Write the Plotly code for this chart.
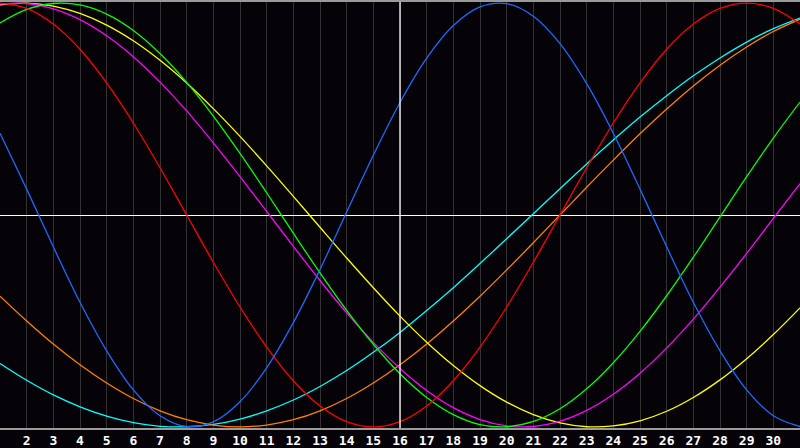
import plotly.graph_objects as go

# day of month on the x axis
days = list(range(1, 32))
today = 16

# cycle values, one per day (1..31)
physical = [0.386, 0.122, -0.150, -0.412, -0.641, -0.825, -0.947, -0.998, -0.976, -0.881,
            -0.721, -0.508, -0.257, 0.014, 0.282, 0.531, 0.740, 0.894, 0.982, 0.997,
            0.938, 0.809, 0.620, 0.386, 0.122, -0.150, -0.412, -0.641, -0.825, -0.947,
            -0.998]
emotional = [1.000, 0.975, 0.901, 0.782, 0.623, 0.434, 0.223, 0.000, -0.223, -0.434,
             -0.623, -0.782, -0.901, -0.975, -1.000, -0.975, -0.901, -0.782, -0.623, -0.434,
             -0.223, 0.000, 0.223, 0.434, 0.623, 0.782, 0.901, 0.975, 1.000, 0.975,
             0.901]
intellectual = [0.906, 0.970, 0.998, 0.991, 0.948, 0.871, 0.762, 0.626, 0.467, 0.291,
                0.105, -0.086, -0.273, -0.450, -0.610, -0.749, -0.861, -0.942, -0.989, -0.999,
                -0.974, -0.914, -0.820, -0.697, -0.549, -0.381, -0.199, -0.009, 0.181, 0.363,
                0.533]
intuitive = [0.995, 0.998, 0.973, 0.922, 0.846, 0.747, 0.627, 0.491, 0.340, 0.181,
             0.017, -0.148, -0.309, -0.462, -0.601, -0.724, -0.828, -0.909, -0.965, -0.995,
             -0.998, -0.973, -0.922, -0.846, -0.747, -0.627, -0.491, -0.340, -0.181, -0.016,
             0.148]
aesthetic = [0.992, 1.000, 0.986, 0.951, 0.896, 0.822, 0.730, 0.623, 0.502, 0.371,
             0.232, 0.088, -0.058, -0.203, -0.343, -0.477, -0.600, -0.710, -0.805, -0.883,
             -0.942, -0.981, -0.999, -0.995, -0.971, -0.926, -0.861, -0.778, -0.678, -0.564,
             -0.438]
awareness = [-0.383, -0.500, -0.609, -0.707, -0.793, -0.866, -0.924, -0.966, -0.991, -1.000,
             -0.991, -0.966, -0.924, -0.866, -0.793, -0.707, -0.609, -0.500, -0.383, -0.259,
             -0.131, 0.000, 0.131, 0.259, 0.383, 0.500, 0.609, 0.707, 0.793, 0.866,
             0.924]
spiritual = [-0.701, -0.780, -0.849, -0.905, -0.949, -0.980, -0.997, -0.999, -0.988, -0.963,
             -0.924, -0.873, -0.809, -0.734, -0.648, -0.554, -0.451, -0.343, -0.229, -0.112,
             0.006, 0.124, 0.241, 0.354, 0.462, 0.563, 0.657, 0.741, 0.816, 0.879,
             0.929]

series = [
    ("Spiritual", spiritual, "#00ffff"),
    ("Awareness", awareness, "#ff8000"),
    ("Aesthetic", aesthetic, "#ffff00"),
    ("Intuitive", intuitive, "#ff00ff"),
    ("Intellectual", intellectual, "#00ff00"),
    ("Emotional", emotional, "#ff0000"),
    ("Physical", physical, "#1a6bff"),
]

tick_days = list(range(2, 31))
tick_text = [f"<b>{d}</b>" for d in tick_days]

fig = go.Figure()
for name, vals, color in series:
    fig.add_trace(go.Scatter(
        x=days, y=vals, name=name, mode="lines",
        line=dict(color=color, width=1.3, shape="spline"),
        hoverinfo="skip",
    ))

# today marker
fig.add_shape(type="line", xref="x", yref="paper", x0=today, x1=today, y0=0, y1=1,
              line=dict(color="white", width=1.3), layer="above")

bg = "#050308"
fig.update_layout(
    width=800, height=448,
    margin=dict(l=0, r=0, t=0, b=20),
    paper_bgcolor=bg, plot_bgcolor=bg,
    showlegend=False,
    font=dict(family="DejaVu Sans Mono", color="white", size=13),
)
fig.update_xaxes(
    range=[1, 31], tickvals=tick_days, ticktext=tick_text,
    showgrid=True, gridcolor="#333333", gridwidth=1,
    ticks="", ticklen=0,
    showline=True, linecolor="#9a9a9a", linewidth=1.5, mirror=True,
    zeroline=False, fixedrange=True,
)
fig.update_yaxes(
    range=[-1.005, 1.005], showticklabels=False, showgrid=False,
    zeroline=True, zerolinecolor="white", zerolinewidth=1.3,
    showline=True, linecolor="#9a9a9a", linewidth=1.5,
    fixedrange=True,
)

fig.write_html("out.html", config={"displayModeBar": False},
               post_script="document.body.style.margin='0';document.body.style.background='%s';" % bg)
